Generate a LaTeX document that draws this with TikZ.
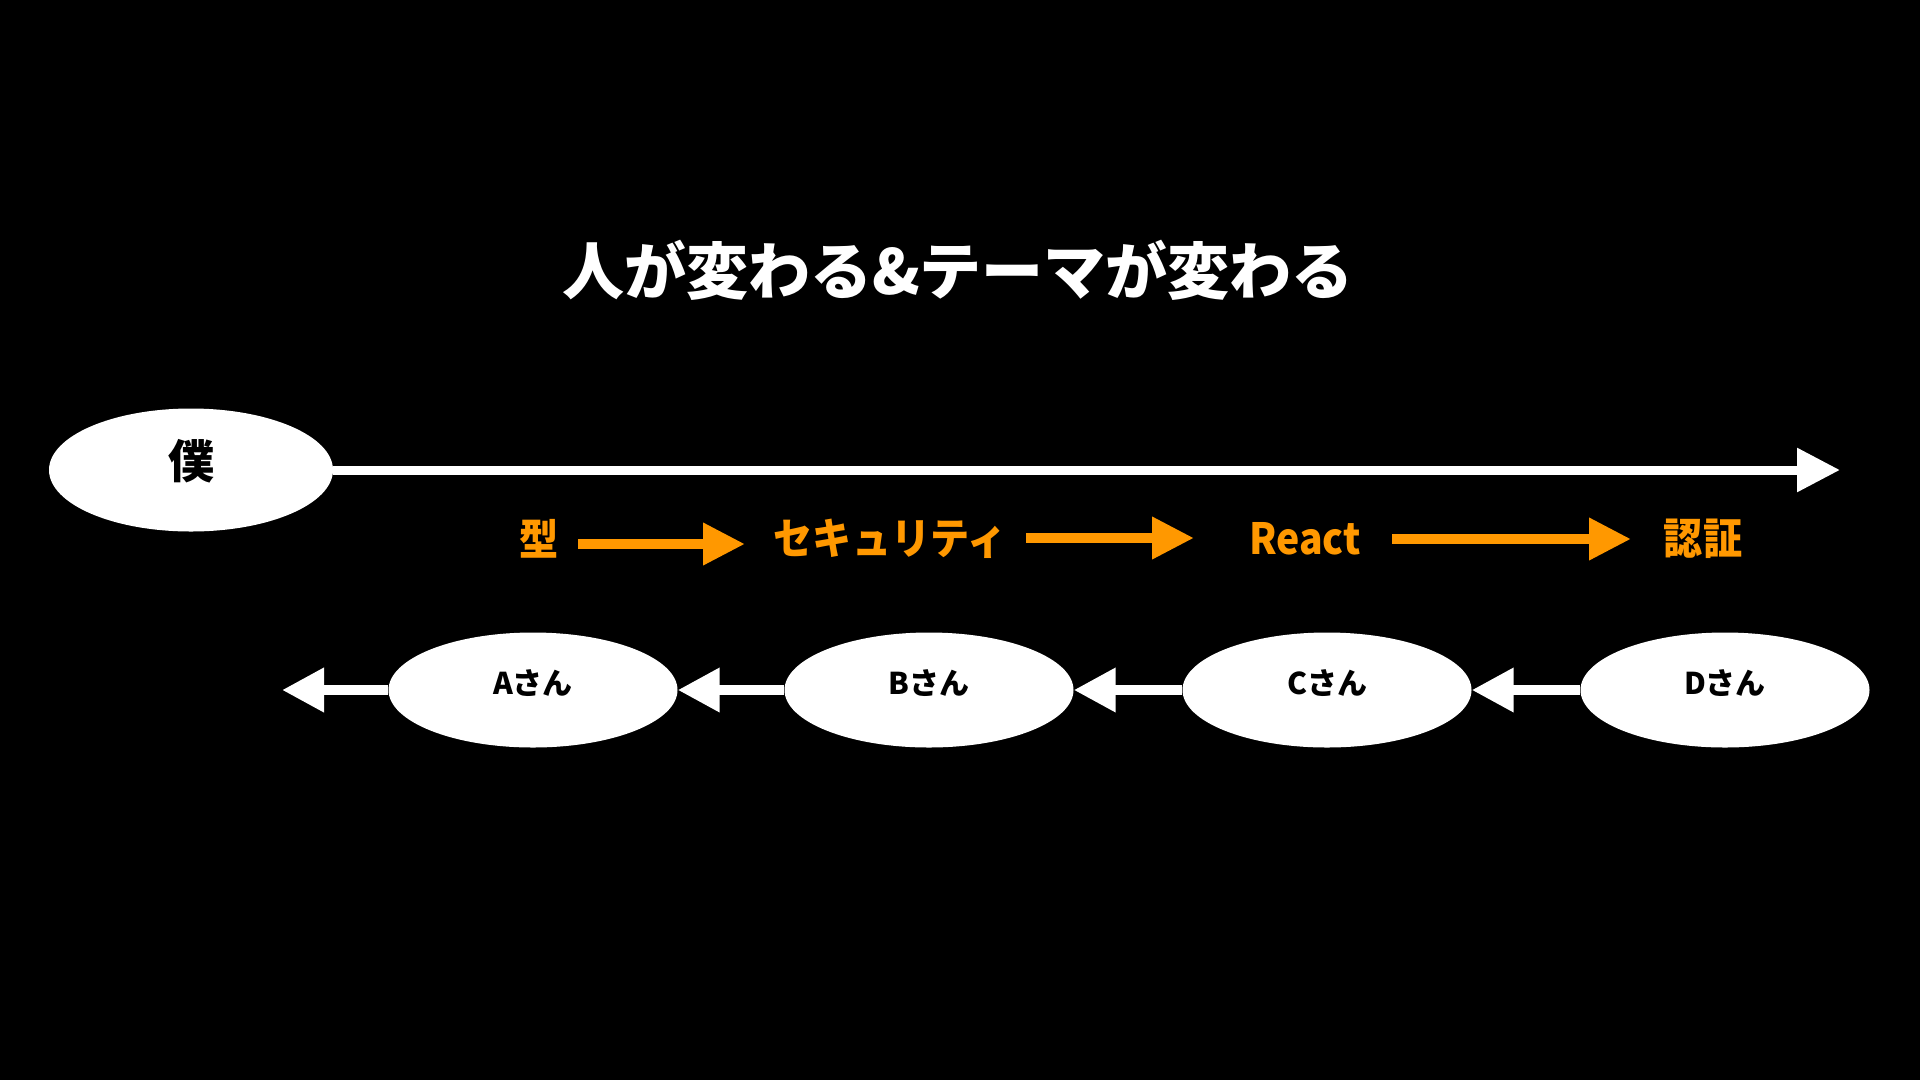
\documentclass[tikz,border=0pt]{standalone}
\usepackage{fontspec}
\setmainfont{Noto Sans CJK JP}
\newfontfamily\jpcond{Noto Sans CJK JP}[FakeStretch=0.91]
\usetikzlibrary{arrows.meta,shapes.geometric}
\definecolor{orng}{RGB}{255,152,0}
\tikzset{
  whitearrow/.style={draw=white, line width=10pt, -{Triangle[length=42pt,width=42pt]}},
  orangearrow/.style={draw=orng, line width=10pt, -{Triangle[length=42pt,width=40pt]}},
  person/.style={ellipse, fill=white, minimum width=289pt, minimum height=115pt, inner sep=0pt},
  persontext/.style={text=black, font=\bfseries\fontsize{30}{30}\selectfont, inner sep=0pt},
  theme/.style={text=orng, font=\jpcond\bfseries\fontsize{43}{43}\selectfont, inner sep=0pt},
}
\begin{document}
\begin{tikzpicture}[x=1pt,y=-1pt]
\fill[black] (0,0) rectangle (1920,1080);
\useasboundingbox (0,0) rectangle (1920,1080);
% title
\node[text=white, font=\bfseries\fontsize{62}{62}\selectfont, inner sep=0pt] (title) at (958,270) {人が変わる\&テーマが変わる};
% boku
\node[ellipse, fill=white, minimum width=284pt, minimum height=123pt, inner sep=0pt] (boku) at (191,470) {};
\node[text=black, font=\bfseries\fontsize{46}{46}\selectfont, inner sep=0pt] (bokutext) at (191,461) {僕};
\coordinate (timeend) at (1840,470);
\draw[whitearrow, line width=9pt, -{Triangle[length=43pt,width=42pt]}] (boku.east) -- (timeend);
% themes
\node[theme] (kata) at (539,539) {型};
\node[theme] (security) at (890,539) {セキュリティ};
\node[theme] (react) at (1305,539) {React};
\node[theme] (ninsho) at (1703,539) {認証};
\coordinate (k1) at (578,544);
\coordinate (s1) at (745,544);
\coordinate (s2) at (1026,538);
\coordinate (r1) at (1194,538);
\coordinate (r2) at (1392,539);
\coordinate (n1) at (1631,539);
\draw[orangearrow] (k1) -- (s1);
\draw[orangearrow] (s2) -- (r1);
\draw[orangearrow] (r2) -- (n1);
% persons
\node[person] (A) at (533,690) {};
\node[person] (B) at (929,690) {};
\node[person] (C) at (1327,690) {};
\node[person] (D) at (1725,690) {};
\node[persontext] (At) at (533,683) {Aさん};
\node[persontext] (Bt) at (929,683) {Bさん};
\node[persontext] (Ct) at (1327,683) {Cさん};
\node[persontext] (Dt) at (1725,683) {Dさん};
\coordinate (past) at (282,690);
\draw[whitearrow] (D.west) -- (C.east);
\draw[whitearrow] (C.west) -- (B.east);
\draw[whitearrow] (B.west) -- (A.east);
\draw[whitearrow] (A.west) -- (past);
\end{tikzpicture}
\end{document}
